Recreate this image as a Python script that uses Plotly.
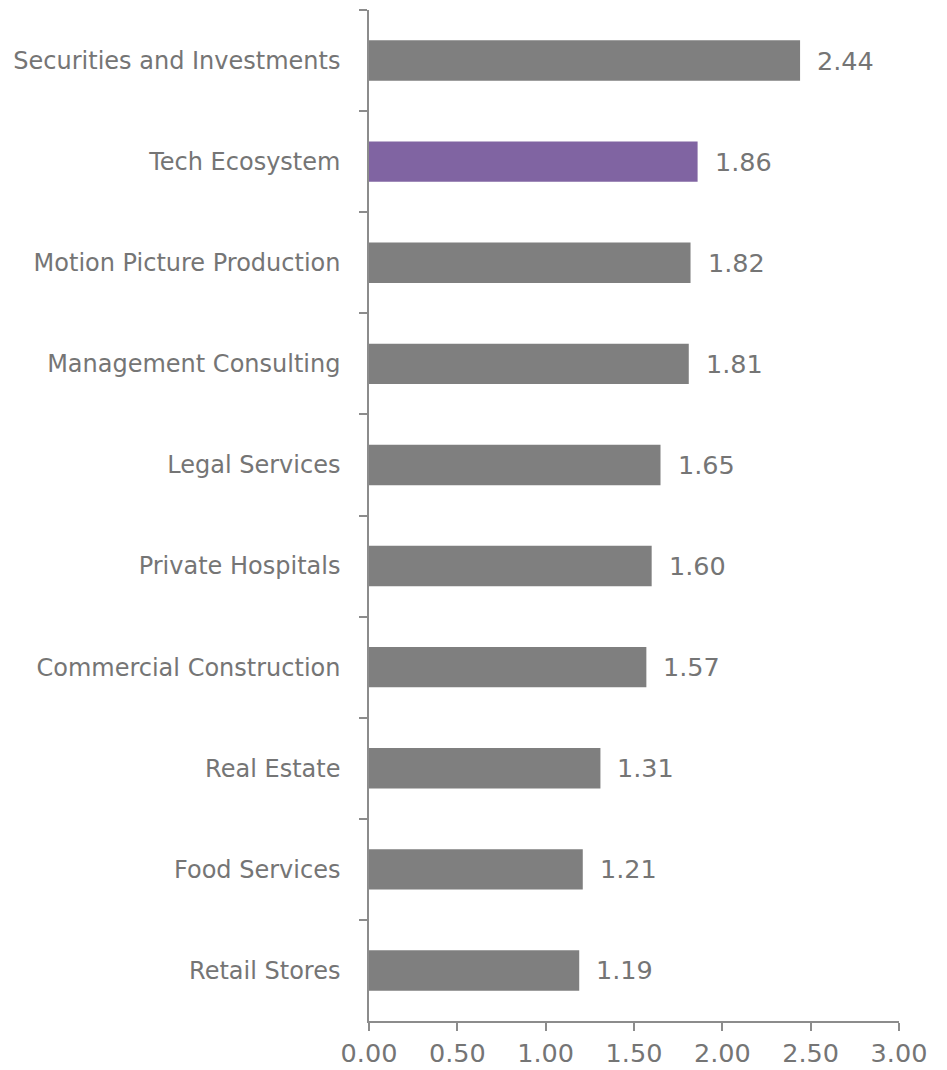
import plotly.graph_objects as go

# Industry multipliers, listed top to bottom
industries = [
    "Securities and Investments",
    "Tech Ecosystem",
    "Motion Picture Production",
    "Management Consulting",
    "Legal Services",
    "Private Hospitals",
    "Commercial Construction",
    "Real Estate",
    "Food Services",
    "Retail Stores",
]
multipliers = [2.44, 1.86, 1.82, 1.81, 1.65, 1.60, 1.57, 1.31, 1.21, 1.19]
highlight = "Tech Ecosystem"

x_ticks = [0.0, 0.5, 1.0, 1.5, 2.0, 2.5, 3.0]

GRAY_BAR = "#7f7f7f"
PURPLE = "#8064a2"
TEXT = "#757575"
AXIS = "#8c8c8c"
FONT = "'DejaVu Sans', sans-serif"

colors = [PURPLE if name == highlight else GRAY_BAR for name in industries]

fig = go.Figure(
    go.Bar(
        x=multipliers,
        y=industries,
        orientation="h",
        marker=dict(color=colors, line=dict(width=0)),
        hoverinfo="skip",
    )
)

# value labels to the right of each bar
for name, val in zip(industries, multipliers):
    fig.add_annotation(
        x=val, y=name, text=f"{val:.2f}", showarrow=False,
        xanchor="left", yanchor="middle", xshift=15,
        font=dict(family=FONT, size=25.5, color=TEXT),
    )

fig.update_layout(
    width=947, height=1070,
    margin=dict(l=369, r=48, t=10, b=49),
    paper_bgcolor="white", plot_bgcolor="white",
    bargap=0.6,
    showlegend=False,
    font=dict(family=FONT, size=24, color=TEXT),
)

fig.update_xaxes(
    range=[0, 3], tickvals=x_ticks, ticktext=[f"{v:.2f}" for v in x_ticks],
    showgrid=False, zeroline=False, automargin=False,
    showline=True, linecolor=AXIS, linewidth=1.5,
    ticks="outside", ticklen=8, tickcolor=AXIS, tickwidth=1.5,
    ticklabelstandoff=1,
    tickfont=dict(family=FONT, size=25.5, color=TEXT),
)
fig.update_yaxes(
    categoryorder="array", categoryarray=industries, autorange="reversed",
    showgrid=False, zeroline=False, automargin=False,
    showline=True, linecolor=AXIS, linewidth=1.5,
    ticks="outside", ticklen=8, tickcolor=AXIS, tickwidth=1.5,
    tickson="boundaries", ticklabelstandoff=22,
    tickfont=dict(family=FONT, size=24, color=TEXT),
)

fig.write_html("out.html")
